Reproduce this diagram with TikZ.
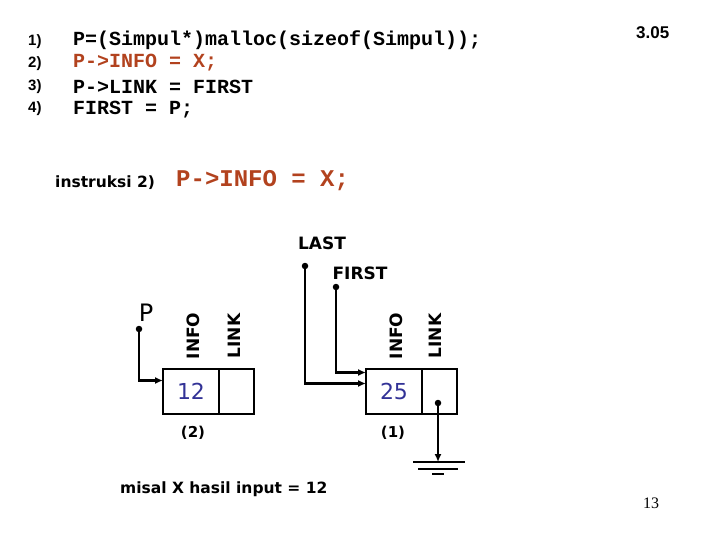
\documentclass[tikz,border=0pt]{standalone}
\usepackage{fontspec}
\setmainfont{DejaVu Sans}
\newfontfamily\codefont{Liberation Mono}
\newfontfamily\numfont{Liberation Sans}
\newfontfamily\pagefont{Liberation Serif}
\usetikzlibrary{positioning, arrows.meta}
\definecolor{codered}{RGB}{178,66,30}
\definecolor{valblue}{RGB}{50,50,150}

\begin{document}
\begin{tikzpicture}[
  x=1pt, y=-1pt,
  code/.style={font=\codefont\bfseries\fontsize{20}{24}\selectfont, anchor=west, inner sep=0pt},
  num/.style={font=\numfont\bfseries\fontsize{15}{17}\selectfont, anchor=west, inner sep=0pt},
  lbl/.style={font=\bfseries\fontsize{17}{19}\selectfont, inner sep=0pt},
  cell/.style={draw, line width=2.2pt, minimum height=45pt, inner sep=0pt, outer sep=0pt},
  infocell/.style={cell, minimum width=56pt, font=\fontsize{22}{26}\selectfont, text=valblue},
  linkcell/.style={cell, minimum width=35pt},
  field/.style={font=\bfseries\fontsize{17}{19}\selectfont, rotate=90, inner sep=0pt},
  ptr/.style={line width=2.2pt, -{Latex[length=8pt,width=7pt]}},
  dot/.style={circle, fill, inner sep=0pt, minimum size=6.5pt},
]
\useasboundingbox (0,0) rectangle (720,540);

% program lines
\node[num] (n1) at (28,42) {1)};
\node[num] (n2) at (28,64) {2)};
\node[num] (n3) at (28,87) {3)};
\node[num] (n4) at (28,109) {4)};
\node[code] (c1) at (73,40) {P=(Simpul*)malloc(sizeof(Simpul));};
\node[code, text=codered] (c2) at (73,63) {P->INFO = X;};
\node[code] (c3) at (73,87) {P->LINK = FIRST};
\node[code] (c4) at (73,110) {FIRST = P;};
\node[num, font=\numfont\bfseries\fontsize{17}{19}\selectfont] (slide) at (636,33) {3.05};

\node[lbl, anchor=west, font=\bfseries\fontsize{15.5}{18}\selectfont] (instr) at (55,183) {instruksi 2)};
\node[code, text=codered, font=\codefont\bfseries\fontsize{24}{27}\selectfont] (step2) at (176,181) {P->INFO = X;};

% the two elements
\node[infocell] (info2) at (191,391.5) {12};
\node[linkcell, right=0pt of info2] (link2) {};
\node[infocell] (info1) at (394,391.5) {25};
\node[linkcell, right=0pt of info1] (link1) {};

\node[field] (info2lbl) at (193,336) {INFO};
\node[field] (link2lbl) at (234,336) {LINK};
\node[field] (info1lbl) at (396,336) {INFO};
\node[field] (link1lbl) at (435,336) {LINK};

\node[lbl, font=\bfseries\fontsize{15}{17}\selectfont] (tag2) at (193,433) {(2)};
\node[lbl, font=\bfseries\fontsize{15}{17}\selectfont] (tag1) at (393,433) {(1)};

% pointers
\node[lbl, font=\fontsize{24}{26}\selectfont] (plbl) at (146,313) {P};
\node[dot] (pdot) at (139,329) {};
\draw[ptr] (pdot.center) |- ([yshift=11pt]info2.west);

\node[lbl] (last) at (322,243) {LAST};
\node[dot] (lastdot) at (305,266) {};
\draw[ptr] (lastdot.center) |- ([yshift=8pt]info1.west);

\node[lbl] (first) at (360,273) {FIRST};
\node[dot] (firstdot) at (336,287) {};
\draw[ptr] (firstdot.center) |- ([yshift=19pt]info1.west);

% nil
\node[dot] (nildot) at (438,403) {};
\coordinate (gnd) at (438,462);
\draw[ptr] (nildot.center) -- (gnd);
\draw[line width=2.2pt] (gnd) ++(-25,0) -- ++(52,0);
\draw[line width=2.2pt] (gnd) ++(-20,7) -- ++(40,0);
\draw[line width=2.2pt] (gnd) ++(-6,12) -- ++(12,0);

\node[lbl, anchor=west, font=\bfseries\fontsize{15.5}{18}\selectfont] (misal) at (120,489) {misal X hasil input = 12};
\node[font=\pagefont\fontsize{16}{18}\selectfont] (page) at (651,503) {13};

\end{tikzpicture}
\end{document}
